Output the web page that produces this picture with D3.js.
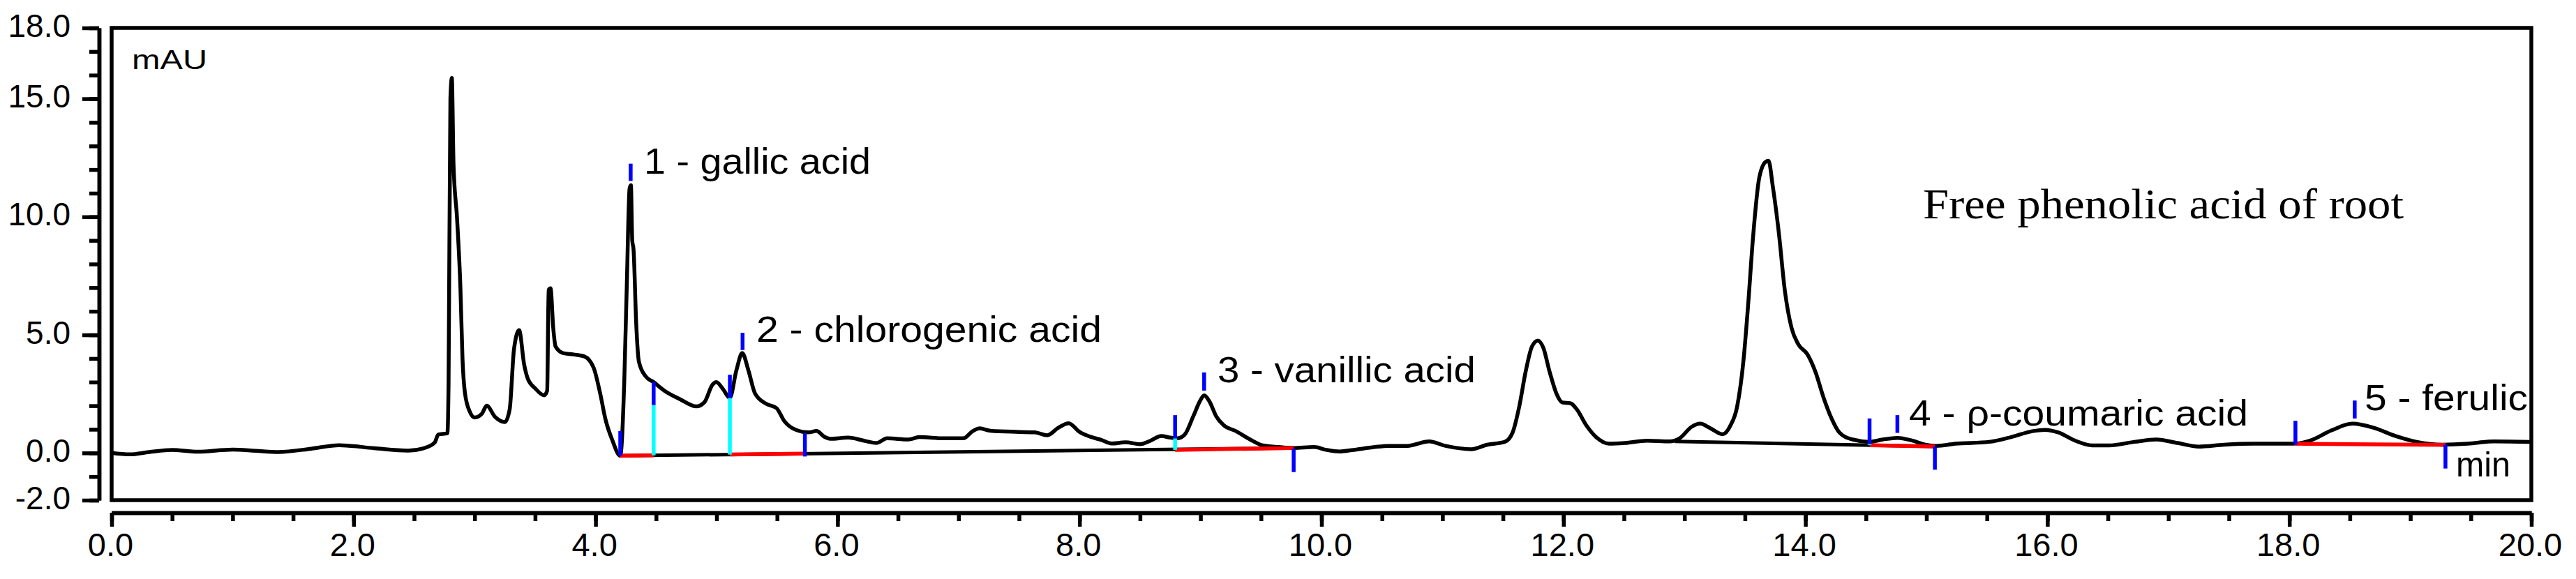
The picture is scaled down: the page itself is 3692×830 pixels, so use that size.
<!DOCTYPE html>
<html>
<head>
<meta charset="utf-8">
<script src="https://cdn.jsdelivr.net/npm/d3@7/dist/d3.min.js"></script>
<style>
  html, body { margin: 0; padding: 0; background: #ffffff; }
  svg { display: block; }
  text { font-family: "Liberation Sans", Arial, sans-serif; fill: #000; }
</style>
</head>
<body>
<svg id="chart" width="3692" height="830"></svg>
<script>
// ---------------- data ----------------
const timeMin = [
  0.00, 0.15, 0.31, 0.50, 0.71, 1.00, 1.19, 1.38, 1.65, 1.88, 2.17, 2.45, 2.58, 2.67, 2.70, 2.775,
  2.785, 2.80, 2.812, 2.826, 2.855, 2.883, 2.90, 2.92, 2.96, 3.00, 3.06, 3.10, 3.17, 3.25,
  3.29, 3.326, 3.368, 3.41, 3.44, 3.50, 3.575, 3.60, 3.612, 3.628, 3.65, 3.67, 3.73, 3.818, 3.906,
  3.983, 4.038, 4.082, 4.137, 4.204, 4.237, 4.259, 4.281, 4.292, 4.303, 4.314, 4.336, 4.358, 4.413,
  4.48, 4.568, 4.70, 4.833, 4.90, 4.965, 4.998, 5.054, 5.109, 5.164, 5.212, 5.263, 5.318, 5.407,
  5.495, 5.56, 5.65, 5.76, 5.826, 5.892, 5.94, 6.087, 6.234, 6.32, 6.41, 6.586, 6.675, 6.88, 7.04,
  7.116, 7.175, 7.264, 7.50, 7.63, 7.734, 7.823, 7.91, 8.00, 8.087, 8.18, 8.265, 8.38, 8.50, 8.587,
  8.676, 8.75, 8.807, 8.868, 8.94, 9.00, 9.03, 9.073, 9.13, 9.19, 9.294, 9.41, 9.515, 9.65, 9.766,
  9.94, 10.04, 10.15, 10.265, 10.44, 10.55, 10.71, 10.89, 11.025, 11.24, 11.37, 11.515, 11.58,
  11.634, 11.687, 11.74, 11.788, 11.833, 11.886, 11.94, 11.99, 12.06, 12.11, 12.19, 12.27, 12.376,
  12.508, 12.69, 12.878, 12.96, 13.06, 13.13, 13.21, 13.315, 13.38, 13.435, 13.488, 13.528, 13.567,
  13.62, 13.674, 13.695, 13.73, 13.78, 13.83, 13.885, 13.94, 14.017, 14.083, 14.15, 14.216, 14.28,
  14.39, 14.53, 14.64, 14.76, 14.885, 14.99, 15.08, 15.24, 15.52, 15.70, 15.875, 15.98, 16.09,
  16.23, 16.37, 16.51, 16.72, 16.90, 17.075, 17.25, 17.46, 17.71, 18.03, 18.17, 18.35, 18.52,
  18.70, 18.875, 19.05, 19.265, 19.475, 19.69, 20.00
];
const signalMAU = [
  0.00, -0.06, 0.04, 0.13, 0.05, 0.14, 0.09, 0.04, 0.18, 0.33, 0.20, 0.10, 0.20, 0.44, 0.78, 0.83,
  3.0, 15.0, 15.88, 12.2, 9.93, 6.97, 4.0, 2.55, 1.75, 1.50, 1.66, 2.00, 1.52, 1.31,
  1.85, 4.41, 5.20, 3.73, 3.14, 2.74, 2.44, 2.64, 6.90, 6.97, 5.30, 4.50, 4.23, 4.17, 4.09,
  3.62, 2.52, 1.42, 0.56, -0.12, 3.01, 7.30, 11.2, 11.34, 9.0, 8.6, 5.46, 3.87, 3.25,
  3.0, 2.64, 2.27, 1.97, 2.15, 2.88, 3.0, 2.70, 2.33, 3.50, 4.23, 3.50, 2.52, 2.09,
  1.90, 1.35, 0.99, 0.87, 0.93, 0.68, 0.60, 0.65, 0.50, 0.42, 0.62, 0.57, 0.67, 0.62, 0.62,
  0.92, 1.04, 0.94, 0.89, 0.87, 0.75, 1.06, 1.26, 0.89, 0.69, 0.55, 0.40, 0.45, 0.37, 0.52,
  0.72, 0.65, 0.62, 0.77, 1.55, 2.24, 2.44, 2.19, 1.55, 1.18, 0.92, 0.57, 0.32, 0.25, 0.21,
  0.25, 0.13, 0.06, 0.13, 0.25, 0.30, 0.30, 0.49, 0.30, 0.16, 0.35, 0.47, 0.87,
  1.95, 3.43, 4.51, 4.76, 4.46, 3.43, 2.54, 2.14, 2.10, 1.85, 1.16, 0.67, 0.39,
  0.42, 0.52, 0.49, 0.62, 1.11, 1.24, 1.06, 0.79, 1.16, 1.95, 3.92, 6.38, 9.14,
  11.70, 12.34, 12.37, 11.30, 9.33, 6.87, 5.30, 4.61, 4.17, 3.43, 2.34, 1.46, 0.87,
  0.57, 0.47, 0.57, 0.64, 0.52, 0.35, 0.30, 0.39, 0.47, 0.67, 0.92, 0.98, 0.87,
  0.52, 0.32, 0.32, 0.47, 0.57, 0.42, 0.27, 0.35, 0.39, 0.39, 0.52, 0.96, 1.24,
  1.06, 0.72, 0.47, 0.35, 0.39, 0.49, 0.47
];

// integration baselines: [t0, v0, t1, v1]
const baselineSegments = [
  [4.204, -0.12, 9.77, 0.21],
  [12.92, 0.49, 15.07, 0.276]
];
// red (integrated) parts of the baselines: [t0, v0, t1, v1]
const integratedSegments = [
  [4.204, -0.12, 4.48, -0.104],
  [5.11, -0.066, 5.73, -0.03],
  [8.79, 0.13, 9.77, 0.21],
  [14.53, 0.33, 15.07, 0.276],
  [18.05, 0.39, 19.29, 0.34]
];
// cyan drop lines: [t, vTop, vBottom]
const dropLines = [
  [4.48, 2.03, -0.10],
  [5.11, 2.33, -0.07],
  [8.79, 0.62, 0.13],
  [14.53, 0.40, 0.33]
];
// blue peak start / apex / end markers: [t, vTop, vBottom]
const peakMarkers = [
  [4.204, 0.93, -0.12],
  [4.29, 12.25, 11.52],
  [4.48, 3.0, 2.03],
  [5.11, 3.31, 2.33],
  [5.215, 5.09, 4.36],
  [5.73, 0.83, -0.15],
  [8.79, 1.60, 0.62],
  [9.03, 3.41, 2.64],
  [9.77, 0.18, -0.81],
  [14.53, 1.46, 0.37],
  [14.76, 1.60, 0.85],
  [15.07, 0.27, -0.71],
  [18.05, 1.36, 0.35],
  [18.54, 2.22, 1.46],
  [19.29, 0.35, -0.66]
];
const peakLabels = ["1 - gallic acid", "2 - chlorogenic acid", "3 - vanillic acid",
                    "4 - \u03C1-coumaric acid", "5 - ferulic"];
const xMajorTicks = [0, 2, 4, 6, 8, 10, 12, 14, 16, 18, 20];
const xMinorTicks = d3.range(0, 20.001, 0.5);
const yMajorTicks = [-2, 0, 5, 10, 15, 18];
const yMinorTicks = d3.range(-2, 18.001, 1);
const titleText = "Free phenolic acid of root";
const yUnit = "mAU";
const xUnit = "min";

// ---------------- layout ----------------
const svg = d3.select("#chart");
const plot = { left: 160, right: 3628, top: 40, bottom: 717 };
const x = d3.scaleLinear().domain([0, 20]).range([plot.left, plot.right]);
const y = d3.scaleLinear().domain([-2, 18]).range([plot.bottom, plot.top]);
const yAxisX = 142, xAxisY = 735;

// frame
svg.append("rect")
  .attr("x", plot.left).attr("y", plot.top)
  .attr("width", plot.right - plot.left).attr("height", plot.bottom - plot.top)
  .attr("fill", "none").attr("stroke", "#000").attr("stroke-width", 5.5);

// y axis
const yMinor = svg.append("g").attr("transform", `translate(${yAxisX},0)`)
  .call(d3.axisLeft(y).tickValues(yMinorTicks).tickSize(14).tickSizeOuter(0).tickFormat(""));
const yMajor = svg.append("g").attr("transform", `translate(${yAxisX},0)`)
  .call(d3.axisLeft(y).tickValues(yMajorTicks).tickSize(24).tickSizeOuter(0).tickPadding(17)
        .tickFormat(d3.format(".1f")));
[yMinor, yMajor].forEach(g => {
  g.selectAll("path.domain").attr("stroke", "#000").attr("stroke-width", 5.5);
  g.selectAll(".tick line").attr("stroke", "#000").attr("stroke-width", 5.5);
});
yMajor.selectAll(".tick text")
  .attr("font-size", 46).attr("font-family", "'Liberation Sans', Arial, sans-serif")
  .attr("fill", "#000").attr("dy", null).attr("dominant-baseline", null).attr("y", 12);
yMajor.selectAll(".tick text").text(d => d3.format(".1f")(d).replace("\u2212", "-"));

// x axis
const xMinor = svg.append("g").attr("transform", `translate(0,${xAxisY})`)
  .call(d3.axisBottom(x).tickValues(xMinorTicks).tickSize(12).tickSizeOuter(0).tickFormat(""));
const xMajor = svg.append("g").attr("transform", `translate(0,${xAxisY})`)
  .call(d3.axisBottom(x).tickValues(xMajorTicks).tickSize(20).tickSizeOuter(0)
        .tickFormat(d3.format(".1f")));
[xMinor, xMajor].forEach(g => {
  g.selectAll("path.domain").attr("stroke", "#000").attr("stroke-width", 5.5);
  g.selectAll(".tick line").attr("stroke", "#000").attr("stroke-width", 5.5);
});
xMajor.selectAll(".tick text")
  .attr("font-size", 47).attr("font-family", "'Liberation Sans', Arial, sans-serif")
  .attr("fill", "#000").attr("dy", null).attr("y", 62).attr("dx", -2);

// baselines (black)
const lineGen = d3.line().x(d => x(d[0])).y(d => y(d[1]));
svg.append("g").selectAll("path").data(baselineSegments).join("path")
  .attr("d", s => lineGen([[s[0], s[1]], [s[2], s[3]]]))
  .attr("fill", "none").attr("stroke", "#000").attr("stroke-width", 5);

// trace
const trace = timeMin.map((t, i) => [t, signalMAU[i]]);
svg.append("path")
  .datum(trace)
  .attr("d", d3.line().x(d => x(d[0])).y(d => y(d[1])).curve(d3.curveMonotoneX))
  .attr("fill", "none").attr("stroke", "#000").attr("stroke-width", 5.5)
  .attr("stroke-linejoin", "round");

// integrated segments (red)
svg.append("g").selectAll("path").data(integratedSegments).join("path")
  .attr("d", s => lineGen([[s[0], s[1]], [s[2], s[3]]]))
  .attr("fill", "none").attr("stroke", "#ff0000").attr("stroke-width", 5.5);

// drop lines (cyan)
svg.append("g").selectAll("line").data(dropLines).join("line")
  .attr("x1", d => x(d[0])).attr("x2", d => x(d[0]))
  .attr("y1", d => y(d[1])).attr("y2", d => y(d[2]))
  .attr("stroke", "#00ffff").attr("stroke-width", 5.5);

// peak markers (blue)
svg.append("g").selectAll("line").data(peakMarkers).join("line")
  .attr("x1", d => x(d[0])).attr("x2", d => x(d[0]))
  .attr("y1", d => y(d[1])).attr("y2", d => y(d[2]))
  .attr("stroke", "#0000ff").attr("stroke-width", 5.5);

// peak labels
const labelPos = [
  { x: 923, y: 249, w: 325 },
  { x: 1084, y: 490, w: 495 },
  { x: 1745, y: 548, w: 370 },
  { x: 2736, y: 610, w: 486 },
  { x: 3389, y: 588, w: 234 }
];
svg.append("g").selectAll("text").data(peakLabels).join("text")
  .attr("x", (d, i) => labelPos[i].x).attr("y", (d, i) => labelPos[i].y)
  .attr("font-size", 52)
  .attr("textLength", (d, i) => labelPos[i].w).attr("lengthAdjust", "spacingAndGlyphs")
  .text(d => d);

// units
svg.append("text").attr("x", 189).attr("y", 99).attr("font-size", 38)
  .attr("textLength", 108).attr("lengthAdjust", "spacingAndGlyphs").text(yUnit);
svg.append("text").attr("x", 3520).attr("y", 683).attr("font-size", 50)
  .attr("textLength", 78).attr("lengthAdjust", "spacingAndGlyphs").text(xUnit);

// title
svg.append("text").attr("x", 2756).attr("y", 313)
  .attr("font-size", 62).style("font-family", "'Liberation Serif', 'Times New Roman', serif")
  .attr("textLength", 689).attr("lengthAdjust", "spacingAndGlyphs").text(titleText);
</script>
</body>
</html>
